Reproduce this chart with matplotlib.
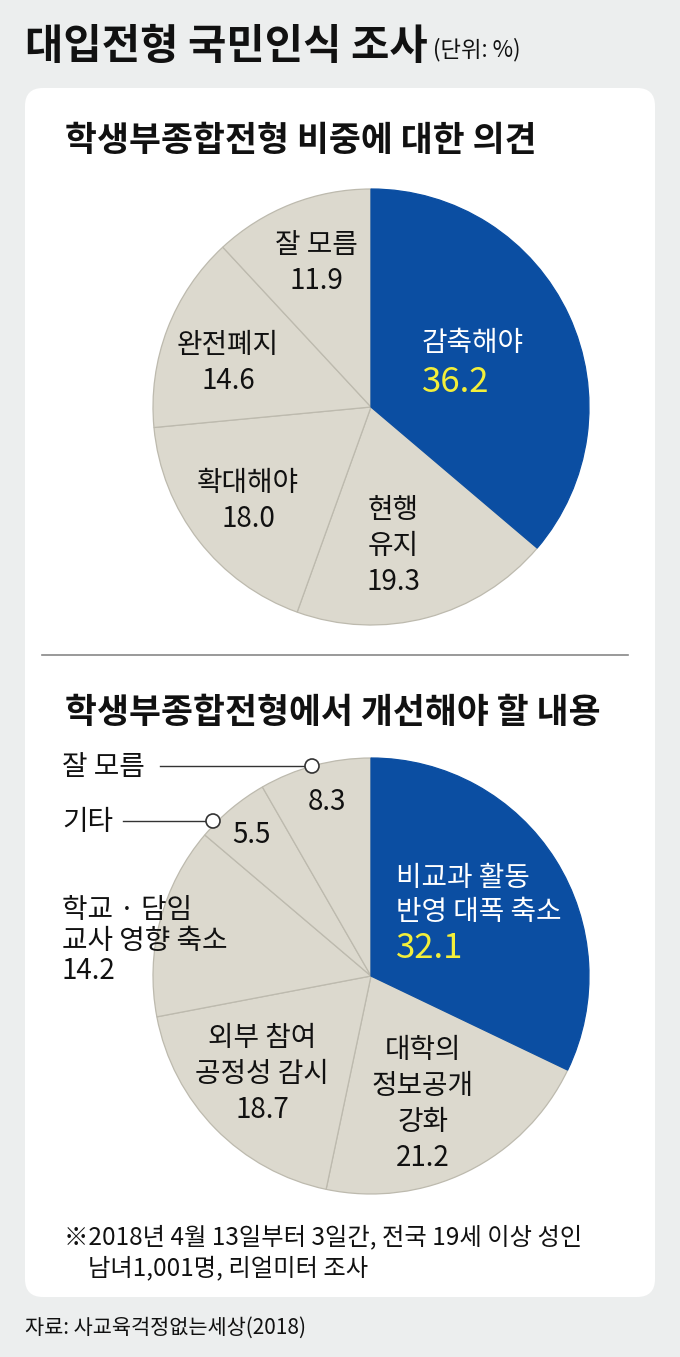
import matplotlib.pyplot as plt
from matplotlib.patches import FancyBboxPatch, Circle

plt.rcParams['font.family'] = ['Noto Sans CJK KR', 'DejaVu Sans']

# 데이터: 학생부종합전형 비중에 대한 의견 (12시 방향부터 시계방향)
labels1 = ['감축해야', '현행\n유지', '확대해야', '완전폐지', '잘 모름']
values1 = [36.2, 19.3, 18.0, 14.6, 11.9]

# 데이터: 학생부종합전형에서 개선해야 할 내용
labels2 = ['비교과 활동\n반영 대폭 축소', '대학의\n정보공개\n강화', '외부 참여\n공정성 감시',
           '학교 · 담임\n교사 영향 축소', '기타', '잘 모름']
values2 = [32.1, 21.2, 18.7, 14.2, 5.5, 8.3]

BLUE = '#0b4ea2'
GRAY = '#dcd9ce'
EDGE = '#bdbaae'
YELLOW = '#f3ef3a'
INK = '#111111'
W, H = 680, 1357

fig = plt.figure(figsize=(W / 100, H / 100), dpi=100)
fig.patch.set_facecolor('#eceeee')

# 흰색 패널 (맨 아래)
panel_ax = fig.add_axes([0, 0, 1, 1], zorder=0)
panel_ax.set_xlim(0, W)
panel_ax.set_ylim(H, 0)
panel_ax.axis('off')
panel_ax.add_patch(FancyBboxPatch((25, 88), 630, 1209, boxstyle='round,pad=0,rounding_size=18',
                                  facecolor='white', edgecolor='none'))


def pie_axes(cx, cy, r):
    return fig.add_axes([(cx - r) / W, (H - cy - r) / H, 2 * r / W, 2 * r / H], zorder=1)


def draw_pie(a, values, colors):
    wedges, _ = a.pie(values, colors=colors, startangle=90, counterclock=False, radius=1,
                      wedgeprops=dict(edgecolor=EDGE, linewidth=0.9))
    wedges[0].set_edgecolor(BLUE)
    wedges[0].set_zorder(3)
    a.set_xlim(-1, 1)
    a.set_ylim(-1, 1)
    a.axis('off')


ax1 = pie_axes(371, 407, 218)
draw_pie(ax1, values1, [BLUE] + [GRAY] * 4)
ax2 = pie_axes(371, 976, 218)
draw_pie(ax2, values2, [BLUE] + [GRAY] * 5)

# 텍스트용 픽셀 좌표 축 (맨 위)
bg = fig.add_axes([0, 0, 1, 1], zorder=3)
bg.set_xlim(0, W)
bg.set_ylim(H, 0)
bg.axis('off')

bg.text(25, 47, '대입전형 국민인식 조사', fontsize=30, fontweight='bold', va='center', color=INK)
bg.text(433, 50, '(단위: %)', fontsize=16, va='center', color=INK)
bg.text(65, 140, '학생부종합전형 비중에 대한 의견', fontsize=25, fontweight='bold', va='center', color=INK)
bg.text(65, 713, '학생부종합전형에서 개선해야 할 내용', fontsize=25, fontweight='bold', va='center', color=INK)
bg.plot([42, 628], [655, 655], color='#888888', lw=1.2)

fs = 20
nfs = 20

# 첫 번째 파이 레이블
bg.text(422, 343, labels1[0], fontsize=fs, color='white', va='center', ha='left')
bg.text(422, 383, f'{values1[0]:.1f}', fontsize=25, color=YELLOW, va='center', ha='left')
pos1 = [(393, 510), (248, 483), (228, 345), (316, 245)]
for (x, y), lab, v in zip(pos1, labels1[1:], values1[1:]):
    lines = lab.split('\n')
    for k, line in enumerate(lines):
        bg.text(x, y + 36 * k, line, fontsize=fs, color=INK, ha='center', va='center')
    bg.text(x, y + 36 * len(lines), f'{v:.1f}', fontsize=nfs, color=INK, ha='center', va='center')

# 두 번째 파이 레이블
for k, line in enumerate(labels2[0].split('\n')):
    bg.text(396, 878 + 34 * k, line, fontsize=fs, color='white', va='center', ha='left')
bg.text(396, 948, f'{values2[0]:.1f}', fontsize=25, color=YELLOW, va='center', ha='left')

pos2 = [(423, 1050), (262, 1038)]
for (x, y), lab, v in zip(pos2, labels2[1:3], values2[1:3]):
    lines = lab.split('\n')
    for k, line in enumerate(lines):
        bg.text(x, y + 36 * k, line, fontsize=fs, color=INK, ha='center', va='center')
    bg.text(x, y + 36 * len(lines), f'{v:.1f}', fontsize=nfs, color=INK, ha='center', va='center')

# 학교·담임 (왼쪽 정렬)
for k, line in enumerate(labels2[3].split('\n')):
    bg.text(62, 910 + 31 * k, line, fontsize=fs, color=INK, ha='left', va='center')
bg.text(62, 971, f'{values2[3]:.1f}', fontsize=nfs, color=INK, ha='left', va='center')

# 기타, 잘 모름 (지시선)
bg.text(62, 822, labels2[4], fontsize=fs, color=INK, ha='left', va='center')
bg.plot([123, 206], [821, 821], color='#333', lw=1)
bg.add_patch(Circle((213, 821), 7, facecolor='white', edgecolor='#333', lw=1.2, zorder=5))
bg.text(251, 835, f'{values2[4]:.1f}', fontsize=nfs, color=INK, ha='center', va='center', zorder=6)

bg.text(62, 767, labels2[5], fontsize=fs, color=INK, ha='left', va='center')
bg.plot([160, 305], [766, 766], color='#333', lw=1)
bg.add_patch(Circle((312, 766), 7, facecolor='white', edgecolor='#333', lw=1.2, zorder=5))
bg.text(327, 802, f'{values2[5]:.1f}', fontsize=nfs, color=INK, ha='center', va='center', zorder=6)

# 주석 및 출처
bg.text(64, 1237, '※2018년 4월 13일부터 3일간, 전국 19세 이상 성인', fontsize=17.5, color=INK, va='center')
bg.text(88, 1268, '남녀1,001명, 리얼미터 조사', fontsize=17.5, color=INK, va='center')
bg.text(25, 1328, '자료: 사교육걱정없는세상(2018)', fontsize=15, color=INK, va='center')

fig.savefig('out.png', dpi=100, facecolor=fig.get_facecolor())
